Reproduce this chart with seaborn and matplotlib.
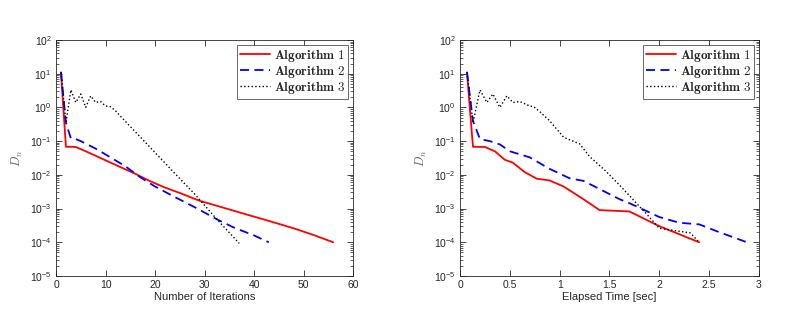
import matplotlib
matplotlib.use('Agg')
import matplotlib.pyplot as plt
import matplotlib.ticker as mticker
import seaborn as sns

# Iterations panel
it_alg1 = [1, 2, 3, 4, 5, 7, 10, 13, 16, 19, 22, 25, 29, 33, 38, 43, 48, 52, 56]
d_alg1 = [11, 0.068, 0.068, 0.067, 0.058, 0.043, 0.027, 0.017, 0.0108, 0.0065, 0.0042,
          0.0029, 0.0017, 0.00115, 7.0e-4, 4.3e-4, 2.6e-4, 1.65e-4, 1.0e-4]
it_alg2 = [1, 2, 3, 4, 5, 8, 11, 14, 17, 20, 24, 28, 32.5, 36, 40, 43]
d_alg2 = [11, 0.35, 0.12, 0.115, 0.10, 0.06, 0.033, 0.018, 0.0085, 0.0045, 0.0022,
          0.0011, 4.8e-4, 2.7e-4, 1.6e-4, 1.0e-4]
it_alg3 = [1, 2, 3, 4, 5, 6, 7, 8, 9, 10, 11, 12, 13, 16, 20, 24, 28, 32.5, 37]
d_alg3 = [11, 0.35, 3.3, 1.4, 2.5, 1.0, 2.2, 1.4, 1.5, 1.1, 1.05, 0.8, 0.55, 0.19,
          0.046, 0.011, 0.0027, 4.8e-4, 9.3e-5]

# Time panel
t_alg1 = [0.07, 0.13, 0.25, 0.35, 0.45, 0.53, 0.65, 0.77, 0.9, 1.04, 1.25, 1.4, 1.7,
          2.0, 2.4]
e_alg1 = [11, 0.068, 0.067, 0.05, 0.028, 0.023, 0.012, 0.0077, 0.0068, 0.0045, 0.0018,
          9.0e-4, 8.2e-4, 3.0e-4, 1.0e-4]
t_alg2 = [0.07, 0.13, 0.2, 0.3, 0.4, 0.5, 0.7, 0.9, 1.1, 1.24, 1.4, 1.6, 1.71, 2.0, 2.2,
          2.4, 2.6, 2.9]
e_alg2 = [11, 0.4, 0.115, 0.1, 0.08, 0.05, 0.033, 0.015, 0.0079, 0.0066, 0.0038,
          0.0019, 0.0014, 5.6e-4, 3.8e-4, 3.4e-4, 2.0e-4, 9.5e-5]
t_alg3 = [0.07, 0.13, 0.2, 0.27, 0.33, 0.4, 0.47, 0.53, 0.6, 0.7, 0.74, 0.8, 0.9, 1.04,
          1.2, 1.3, 1.45, 1.6, 1.74, 1.87, 2.0, 2.31, 2.4]
e_alg3 = [11, 0.35, 3.3, 1.4, 2.5, 1.0, 2.2, 1.4, 1.5, 1.1, 1.05, 0.75, 0.4, 0.13,
          0.083, 0.035, 0.014, 0.005, 0.0018, 7.0e-4, 2.6e-4, 1.9e-4, 1.0e-4]

labels = [r'$\mathbf{Algorithm\ 1}$', r'$\mathbf{Algorithm\ 2}$', r'$\mathbf{Algorithm\ 3}$']
colors = ['#ff0000', '#0000ff', '#000000']
styles = ['-', (0, (5, 3)), ':']
widths = [1.3, 1.3, 1.0]

sns.set_style('white')
plt.rcParams['font.family'] = ['Liberation Sans', 'DejaVu Sans']
plt.rcParams['mathtext.fontset'] = 'cm'

fig = plt.figure(figsize=(7.96, 3.10), dpi=100)
ax1 = fig.add_axes([0.0704, 0.1097, 0.3731, 0.7613])
ax2 = fig.add_axes([0.5779, 0.1097, 0.3756, 0.7613])

panels = [
    (ax1, [(it_alg1, d_alg1), (it_alg2, d_alg2), (it_alg3, d_alg3)], (0, 60),
     'Number of Iterations'),
    (ax2, [(t_alg1, e_alg1), (t_alg2, e_alg2), (t_alg3, e_alg3)], (0, 3),
     'Elapsed Time [sec]'),
]

for ax, series, xlim, xlabel in panels:
    for (x, y), lab, c, ls, lw in zip(series, labels, colors, styles, widths):
        sns.lineplot(x=x, y=y, ax=ax, color=c, linestyle=ls, linewidth=lw, label=lab,
                     sort=False, estimator=None)
    ax.set_yscale('log')
    ax.set_ylim(1e-5, 1e2)
    ax.set_xlim(*xlim)
    ax.yaxis.set_major_locator(mticker.LogLocator(base=10, numticks=10))
    ax.yaxis.set_minor_locator(mticker.LogLocator(base=10, subs=range(2, 10), numticks=20))
    ax.yaxis.set_minor_formatter(mticker.NullFormatter())
    ax.xaxis.set_major_formatter(mticker.FormatStrFormatter('%g'))
    ax.set_xlabel(xlabel, fontsize=8, color='#262626', labelpad=1)
    ax.set_ylabel('$D_n$', fontsize=9, color='#666666', labelpad=4)
    ax.tick_params(which='both', direction='in', left=True, bottom=True, top=True,
                   right=True, labelsize=7.5, colors='#262626', pad=3)
    ax.tick_params(which='major', length=4, width=0.6)
    ax.tick_params(which='minor', length=2, width=0.5)
    ax.tick_params(axis='x', which='minor', bottom=False, top=False)
    for sp in ax.spines.values():
        sp.set_visible(True)
        sp.set_color('#262626')
        sp.set_linewidth(0.6)
    leg = ax.legend(loc='upper right', frameon=True, fancybox=False,
                    prop={'size': 9.5},
                    handlelength=2.3, handletextpad=0.25, borderpad=0.2,
                    labelspacing=0.0, borderaxespad=0.4)
    leg.get_frame().set_edgecolor('#262626')
    leg.get_frame().set_linewidth(0.6)

fig.savefig('out.png', dpi=100)
